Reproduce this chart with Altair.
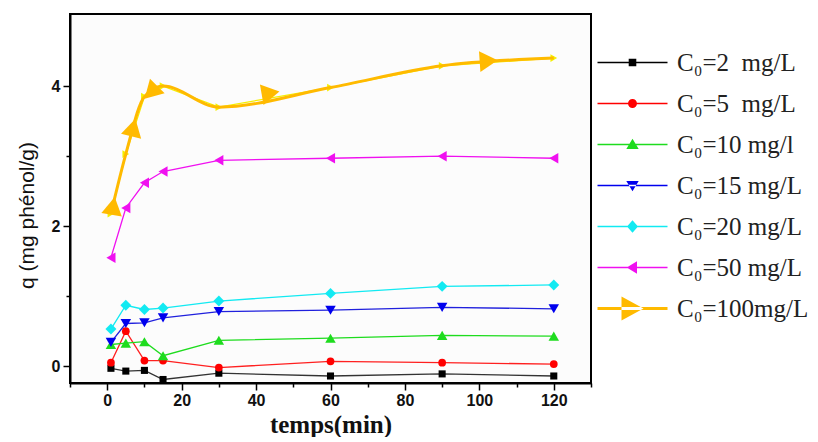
import altair as alt
import pandas as pd

# ---- data ----
times = [1, 5, 10, 15, 30, 60, 90, 120]
q_2 = [-0.03, -0.07, -0.06, -0.19, -0.10, -0.14, -0.11, -0.14]
q_5 = [0.05, 0.50, 0.08, 0.08, -0.02, 0.07, 0.05, 0.03]
q_10 = [0.31, 0.33, 0.35, 0.15, 0.37, 0.40, 0.44, 0.43]
q_15 = [0.34, 0.61, 0.62, 0.69, 0.78, 0.80, 0.84, 0.82]
q_20 = [0.53, 0.87, 0.81, 0.83, 0.93, 1.04, 1.14, 1.16]
q_50 = [1.55, 2.26, 2.62, 2.78, 2.94, 2.97, 3.00, 2.97]
q_100 = [2.18, 3.03, 3.85, 4.00, 3.70, 3.98, 4.29, 4.40]

# markers of the smoothed (fitted) C0=100 curve
fit_t = [1.6, 7.0, 13.1, 43.9, 102.5]
fit_q = [2.29, 3.41, 3.93, 3.90, 4.36]
fit_angle = [280, 284, 15, 350, 356]

labels = ["C₀=2\u00a0 mg/L", "C₀=5\u00a0 mg/L", "C₀=10 mg/l", "C₀=15 mg/L",
          "C₀=20 mg/L", "C₀=50 mg/L", "C₀=100mg/L"]
colors = ["#000000", "#ff0000", "#1edc1e", "#0000ee", "#12eaf2", "#f010f0", "#ffba00"]
line_colors = ["#333333", "#ff2020", "#1edc1e", "#2020dd", "#12eaf2", "#f010f0", "#f5f000"]
point_colors = ["#000000", "#ff0000", "#1edc1e", "#0000ee", "#12eaf2", "#f010f0", "#f5f000"]
shapes = ["square", "circle", "triangle-up", "triangle-down", "diamond", "triangle-left", "triangle-right"]
sizes = [50, 60, 110, 110, 120, 110, 60]

series_vals = [q_2, q_5, q_10, q_15, q_20, q_50, q_100]

# legend symbols: a line plus a marker, in one path
L = "M-3.5,-0.065 L3.5,-0.065 L3.5,0.065 L-3.5,0.065 Z "
LB = "M-3.5,-0.15 L3.5,-0.15 L3.5,0.15 L-3.5,0.15 Z "
legend_paths = [
    L + "M-0.38,-0.38 L0.38,-0.38 L0.38,0.38 L-0.38,0.38 Z",
    L + "M0.45,0 A0.45,0.45 0 1,1 -0.45,0 A0.45,0.45 0 1,1 0.45,0 Z",
    L + "M0,-0.58 L0.62,0.45 L-0.62,0.45 Z",
    L + "M0,0.58 L0.62,-0.45 L-0.62,-0.45 Z",
    L + "M0,-0.62 L0.55,0 L0,0.62 L-0.55,0 Z",
    L + "M-0.58,0 L0.45,-0.62 L0.45,0.62 Z",
    LB + "M1.1,0 L-1.1,-1.2 L-1.1,1.2 Z",
]

rows = []
for lab, vals in zip(labels, series_vals):
    for t, q in zip(times, vals):
        rows.append({"series": lab, "t": t, "q": q})
df = pd.DataFrame(rows)
fit_df = pd.DataFrame({"t": fit_t, "q": fit_q, "angle": fit_angle})

x_enc = alt.X("t:Q", scale=alt.Scale(domain=[-10, 130], nice=False, zero=False),
              axis=alt.Axis(
                  values=list(range(-10, 131, 10)),
                  labelExpr="(datum.value % 20 === 0 && datum.value >= 0 && datum.value <= 120) ? datum.label : ''",
                  tickSize={"condition": {"test": "datum.value % 20 === 0", "value": 7}, "value": 4},
                  grid=False, domainColor="black", domainWidth=2, tickColor="black", tickWidth=1.5,
                  labelFont="Liberation Sans", labelFontWeight="bold", labelFontSize=16, labelColor="#111",
                  labelPadding=2, title="temps(min)", titleFont="Liberation Serif", titleFontWeight="bold",
                  titleFontSize=25, titleColor="#111", titlePadding=4))
y_enc = alt.Y("q:Q", scale=alt.Scale(domain=[-0.24, 5.03], nice=False, zero=False),
              axis=alt.Axis(
                  values=[0, 1, 2, 3, 4],
                  labelExpr="datum.value % 2 === 0 ? datum.label : ''",
                  tickSize={"condition": {"test": "datum.value % 2 === 0", "value": 7}, "value": 4},
                  grid=False, domainColor="black", domainWidth=2, tickColor="black", tickWidth=1.5,
                  labelFont="Liberation Sans", labelFontWeight="bold", labelFontSize=16, labelColor="#111",
                  labelPadding=3, title="q (mg phénol/g)", titleFont="Liberation Sans",
                  titleFontWeight="normal", titleFontSize=21, titleColor="#111",
                  titleAngle=270, titleAlign="center", titleBaseline="bottom", titleX=-33, titleY=201))

layers = []
for i, lab in enumerate(labels):
    base = alt.Chart(df).transform_filter(alt.datum.series == lab)
    ln = base.mark_line(color=line_colors[i], strokeWidth=1.3).encode(x=x_enc, y=y_enc)
    pt = base.mark_point(filled=True, opacity=1, shape=shapes[i], size=sizes[i],
                         color=point_colors[i]).encode(x=x_enc, y=y_enc)
    layers += [ln, pt]

# smoothed curve for C0=100 mg/L
fit_line = alt.Chart(df).transform_filter(alt.datum.series == labels[6]).mark_line(
    color="#ffba00", strokeWidth=3, interpolate="monotone").encode(x=x_enc, y=y_enc)
fit_pts = alt.Chart(fit_df).mark_point(filled=True, opacity=1, shape="triangle-right", size=430,
                                       color="#ffba00").encode(x=x_enc, y=y_enc, angle=alt.Angle("angle:Q", scale=None))
layers += [fit_line, fit_pts]

leg = alt.Legend(orient="none", legendX=550, legendY=36, title=None, labelFont="Liberation Serif",
                 labelFontSize=25, labelColor="#222", symbolSize=400, symbolStrokeWidth=0,
                 labelOffset=32, rowPadding=15, padding=0, symbolOffset=0, labelLimit=300)
legend_df = pd.DataFrame({"series": labels})
legend_layer = alt.Chart(legend_df).transform_filter("false").mark_point(filled=True, opacity=1).encode(
    x=alt.value(0), y=alt.value(0),
    color=alt.Color("series:N", scale=alt.Scale(domain=labels, range=colors), legend=leg),
    shape=alt.Shape("series:N", scale=alt.Scale(domain=labels, range=legend_paths), legend=leg),
)
layers.append(legend_layer)

chart = alt.layer(*layers).properties(
    width=521, height=369,
    padding={"left": 8, "top": 6, "right": 0, "bottom": 0},
).configure_view(stroke="black", strokeWidth=2, fill="#fcfcfc")

chart.save("out.html", embed_options={"renderer": "svg", "actions": False})
